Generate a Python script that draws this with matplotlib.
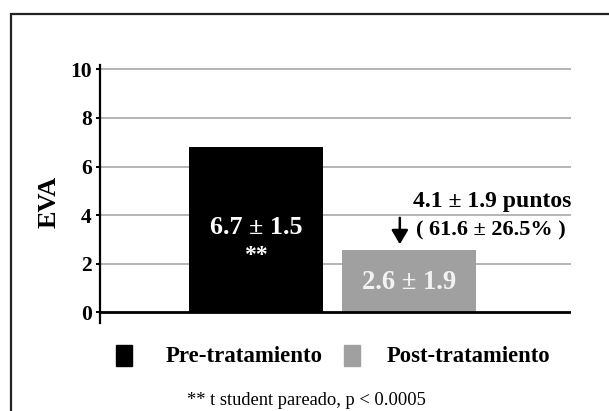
"""Bar chart: EVA before and after treatment."""

import matplotlib
matplotlib.use("Agg")
import matplotlib.pyplot as plt
from matplotlib.patches import Rectangle

# Data
groups = ["Pre-tratamiento", "Post-tratamiento"]
eva_mean = [6.8, 2.55]
bar_labels = ["6.7 \u00b1 1.5", "2.6 \u00b1 1.9"]
diff_label = "4.1 \u00b1 1.9 puntos"
diff_pct_label = "( 61.6 \u00b1 26.5% )"
yticks = [0, 2, 4, 6, 8, 10]
footnote = "** t student pareado, p < 0.0005"

COLORS = ["#000000", "#a0a0a0"]
FONT = "Liberation Serif"

plt.rcParams.update({
    "font.family": FONT,
    "font.weight": "bold",
})

W, H = 609, 411
fig = plt.figure(figsize=(W / 100, H / 100), dpi=100)


def fx(px):
    return px / W


def fy(py):
    return (H - py) / H


# axes placed in pixel terms: left 100, right 571, top 64.6, bottom 323
ax = fig.add_axes([fx(100), fy(323), fx(571) - fx(100), fy(64.6) - fy(323)])

x = [0, 1]
width = 0.876
ax.bar(x, eva_mean, width, color=COLORS, zorder=3)

ax.set_xlim(-1.0196, 2.0588)
ax.set_ylim(-0.45, 10.2)
ax.set_yticks(yticks)
ax.set_xticks([])

for t in yticks[1:]:
    ax.axhline(t, color="#a0a0a0", lw=1.1, zorder=1)
ax.axhline(0, color="black", lw=2.0, zorder=4)

for side in ["top", "right", "bottom"]:
    ax.spines[side].set_visible(False)
ax.spines["left"].set_linewidth(1.6)
ax.tick_params(axis="y", length=3, width=1.4, pad=3, labelsize=15.5)
for lbl in ax.get_yticklabels():
    lbl.set_fontweight("bold")

# Value labels inside bars
ax.text(x[0], 3.5, bar_labels[0], color="white", ha="center", va="center",
        fontsize=18.8, fontweight="bold", zorder=5)
ax.text(x[0], 2.35, "**", color="white", ha="center", va="center",
        fontsize=17, fontweight="bold", zorder=5)
ax.text(x[1], 1.2, bar_labels[1], color="#f2f2f2", ha="center", va="center",
        fontsize=19.2, fontweight="bold", zorder=5)

# Difference arrow and labels
ax.annotate("", xy=(x[1] - 0.06, 2.68), xytext=(x[1] - 0.06, 4.0),
            arrowprops=dict(arrowstyle="-|>,head_length=0.85,head_width=0.5",
                            color="black", lw=1.8), zorder=5)
ax.text(1.545, 4.33, diff_label, ha="center", va="baseline",
        fontsize=17, fontweight="bold", zorder=5)
ax.text(1.535, 3.38, diff_pct_label, ha="center", va="center",
        fontsize=16, fontweight="bold", zorder=5)

# EVA label
fig.text(fx(49), fy(202), "EVA", rotation=90, ha="center", va="center",
         fontsize=19, fontweight="bold")

# Legend
fig.patches.append(Rectangle((fx(116), fy(366)), fx(16), fy(345) - fy(366),
                             transform=fig.transFigure, color=COLORS[0]))
fig.patches.append(Rectangle((fx(344), fy(366)), fx(16), fy(345) - fy(366),
                             transform=fig.transFigure, color=COLORS[1]))
fig.text(fx(166), fy(362), groups[0], ha="left", va="baseline",
         fontsize=16.5, fontweight="bold")
fig.text(fx(387), fy(362), groups[1], ha="left", va="baseline",
         fontsize=16.3, fontweight="bold")

# Footnote
fig.text(fx(306), fy(400), footnote, ha="center", va="center",
         fontsize=13.3, fontweight="normal")

# Frame (runs off the right and bottom edges)
fig.patches.append(Rectangle((fx(11), fy(H + 20)), fx(W + 40), fy(14) - fy(H + 20),
                             transform=fig.transFigure, fill=False,
                             edgecolor="#222222", lw=1.6))

fig.savefig("out.png", dpi=100)
plt.close(fig)
print("Saved: out.png")
